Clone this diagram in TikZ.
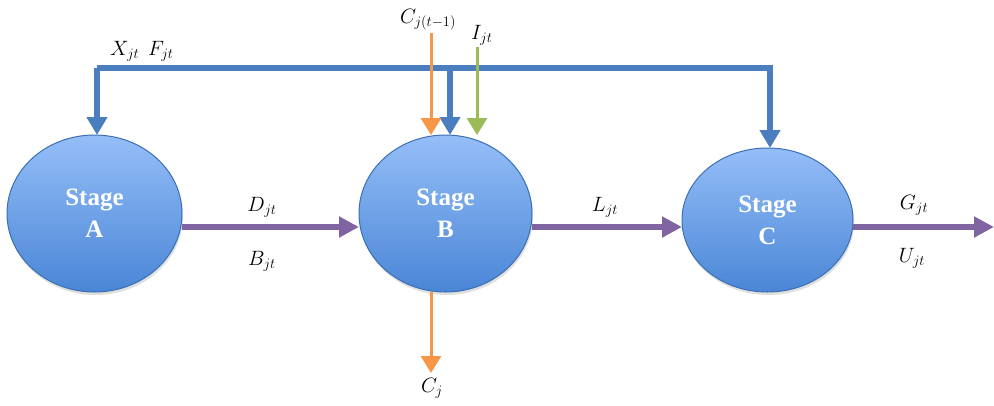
\documentclass[tikz,border=0pt]{standalone}
\usepackage{fontspec}
\setmainfont{Liberation Serif}
\usetikzlibrary{shapes.geometric,arrows.meta,shadows,calc}
\definecolor{stagetop}{HTML}{95BEF8}
\definecolor{stagebot}{HTML}{4A86D6}
\definecolor{stageedge}{HTML}{3A6FB3}
\definecolor{flowblue}{HTML}{4A7EBF}
\definecolor{flowpurple}{HTML}{8064A2}
\definecolor{floworange}{HTML}{F79646}
\definecolor{flowgreen}{HTML}{9BBB59}
\tikzset{
  stagenode/.style={ellipse, draw=stageedge, line width=1pt, top color=stagetop, bottom color=stagebot,
    text=white, font=\fontsize{25}{32}\selectfont\bfseries, align=center, inner sep=0pt,
    drop shadow={opacity=0.25, shadow xshift=1pt, shadow yshift=-3pt}},
  lbl/.style={font=\fontsize{21}{23}\selectfont, inner sep=0pt},
  bluefl/.style={draw=flowblue, line width=6pt, line join=miter,
    -{Triangle[length=18pt,width=20pt]}},
  purplefl/.style={draw=flowpurple, line width=6pt, -{Triangle[length=20pt,width=20pt]}},
  orangefl/.style={draw=floworange, line width=3pt, -{Triangle[length=17pt,width=20pt]}},
  greenfl/.style={draw=flowgreen, line width=3pt, -{Triangle[length=17pt,width=20pt]}},
}
\begin{document}
\begin{tikzpicture}[x=1pt,y=-1pt]
\useasboundingbox (0,0) rectangle (994,405);
% stages
\node[stagenode, minimum width=175pt, minimum height=157pt] (A) at (94.5,213.5) {Stage\\A};
\node[stagenode, minimum width=173pt, minimum height=157pt] (B) at (445.5,213.5) {Stage\\B};
\node[stagenode, minimum width=171pt, minimum height=144pt] (C) at (767.5,220) {Stage\\C};
% top feedback line
\coordinate (tl) at (97,68);
\coordinate (tr) at (770,68);
\coordinate (tb) at (450,68);
\coordinate (Ain) at (97,135);
\coordinate (Bin) at (450,135);
\coordinate (Cin) at (770,148);
\draw[bluefl] (tl) -- (Ain);
\draw[bluefl] (tl) -- (tr) -- (Cin);
\draw[bluefl] (tb) -- (Bin);
\node[lbl, anchor=base west] (X) at (110,55) {$X_{jt}$};
\node[lbl, anchor=base west] (F) at (148,55) {$F_{jt}$};
% orange and green inputs
\coordinate (ost) at (431,33);
\coordinate (oin) at (431,135);
\coordinate (gst) at (477,47);
\coordinate (gin) at (477,135);
\draw[orangefl] (ost) -- (oin);
\draw[greenfl] (gst) -- (gin);
\node[lbl, anchor=base] (Cprev) at (428,23) {$C_{j(t-1)}$};
\node[lbl, anchor=base west] (I) at (471,39) {$I_{jt}$};
% orange output
\coordinate (oout) at (431,373);
\draw[orangefl] (431,292) -- (oout);
\node[lbl, anchor=base] (Cj) at (432,392) {$C_j$};
% purple flows
\coordinate (Aout) at (182,227);
\coordinate (Bp) at (359,227);
\coordinate (Bout) at (532,227);
\coordinate (Cp) at (682,227);
\coordinate (Cout) at (853,227);
\coordinate (End) at (994,227);
\draw[purplefl] (Aout) -- (Bp);
\draw[purplefl] (Bout) -- (Cp);
\draw[purplefl] (Cout) -- (End);
\node[lbl, anchor=base] (D) at (262,211) {$D_{jt}$};
\node[lbl, anchor=base] (Bl) at (262,265) {$B_{jt}$};
\node[lbl, anchor=base] (L) at (605,211) {$L_{jt}$};
\node[lbl, anchor=base] (G) at (914,209) {$G_{jt}$};
\node[lbl, anchor=base] (U) at (912,262) {$U_{jt}$};
\end{tikzpicture}
\end{document}
